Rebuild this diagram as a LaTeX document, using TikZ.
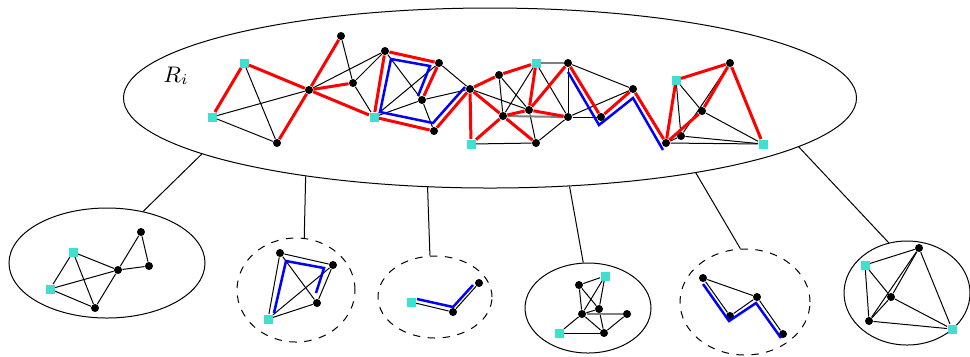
\documentclass[tikz,border=0pt]{standalone}
\usetikzlibrary{shapes.geometric}
\definecolor{termcol}{RGB}{64,224,208}
\begin{document}
\begin{tikzpicture}[x=0.4pt, y=-0.4pt,
    vtx/.style={circle, fill=black, inner sep=0pt, minimum size=3.2pt},
    term/.style={rectangle, fill=termcol, inner sep=0pt, minimum size=3.6pt},
    hl/.style={red, line width=1.2pt},
    bl/.style={blue, line width=1pt},
    dbl/.style={gray, line width=0.8pt},
    solidreg/.style={draw, ellipse, inner sep=0pt},
    dashreg/.style={draw, ellipse, dashed, inner sep=0pt}]
    \useasboundingbox (0,0) rectangle (970,356);

    % Region R_i and its pieces
    \node[solidreg, minimum width=293.2pt, minimum height=72pt] (ri) at (490,98) {};
    \node[font=\small] (rlab) at (176,76) {$R_i$};
    \node[solidreg, minimum width=78.4pt, minimum height=44pt] (g1) at (107,263) {};
    \node[dashreg, minimum width=47.2pt, minimum height=41.6pt] (g2) at (296,290) {};
    \node[dashreg, minimum width=45.6pt, minimum height=32.8pt] (g3) at (435,297) {};
    \node[solidreg, minimum width=50.4pt, minimum height=36pt] (g4) at (588,308) {};
    \node[dashreg, minimum width=52pt, minimum height=42.4pt] (g5) at (745,302) {};
    \node[solidreg, minimum width=50.4pt, minimum height=41.6pt] (g6) at (907,293) {};

    % Links from R_i down to the pieces
    \draw (ri.191.1) -- (g1.55.5);
    \draw (ri.203.5) -- (g2.81.3);
    \draw (ri.235.4) -- (g3.97);
    \draw (ri.312) -- (g4.96);
    \draw (ri.340.8) -- (g5.95);
    \draw (ri.351.4) -- (g6.110);

    % Graph inside R_i
    \node[term] (a1) at (244,63) {};
    \node[term] (a2) at (212,117) {};
    \node[vtx] (a3) at (277,143) {};
    \node[vtx] (c) at (309,90) {};
    \node[vtx] (d) at (341,36) {};
    \node[vtx] (e) at (353,83) {};
    \node[vtx] (f) at (385,51) {};
    \node[term] (g) at (374,117) {};
    \node[vtx] (h) at (439,63) {};
    \node[vtx] (i) at (422,100) {};
    \node[vtx] (j) at (434,131) {};
    \node[vtx] (k) at (470,89) {};
    \node[vtx] (l) at (499,75) {};
    \node[term] (m) at (536,63) {};
    \node[vtx] (n) at (568,63) {};
    \node[vtx] (o) at (503,116) {};
    \node[vtx] (p) at (529,110) {};
    \node[vtx] (q) at (568,117) {};
    \node[term] (r) at (471,144) {};
    \node[vtx] (s) at (536,143) {};
    \node[vtx] (t) at (601,117) {};
    \node[vtx] (u) at (633,89) {};
    \node[vtx] (v) at (666,143) {};
    \node[term] (w) at (676,80) {};
    \node[vtx] (xx) at (681,136) {};
    \node[vtx] (yy) at (702,111) {};
    \node[vtx] (z) at (730,63) {};
    \node[term] (aa) at (763,144) {};

    \foreach \s/\t in {a1/a3, a2/a3, a2/c, c/f, d/e, e/f, e/g, f/i, g/h, g/i,
        i/j, i/k, h/k, k/p, l/o, l/p, m/o, m/q, p/s, r/s, s/q, n/q, n/u, q/t,
        q/u, w/xx, w/yy, xx/z, yy/aa, xx/aa, v/aa, v/xx}
        \draw (\s) -- (\t);
    \draw[dbl] (m) -- (n);
    \draw[dbl] (o) -- (q);
    \foreach \s/\t in {a1/a2, a1/c, c/g, a3/c, c/d, c/e, f/g, f/h, h/i, g/j,
        j/k, k/l, l/m, k/r, k/o, o/s, r/o, o/p, p/m, p/n, p/q, n/t, t/u, u/v,
        v/w, w/z, z/aa, v/yy, yy/z}
        \draw[hl] (\s) -- (\t);

    % Blue paths beside the red ones
    \draw[bl] (418,96) -- (430,66) -- (391,59) -- (380,112) -- (433,123) -- (465,87);
    \draw[bl] (568,72) -- (599,125) -- (633,98) -- (663,150);

    % Piece 1
    \node[term] (p1a) at (73,252) {};
    \node[term] (p1b) at (50,289) {};
    \node[vtx] (p1c) at (95,308) {};
    \node[vtx] (p1d) at (118,270) {};
    \node[vtx] (p1e) at (141,232) {};
    \node[vtx] (p1f) at (149,266) {};
    \foreach \s/\t in {p1a/p1b, p1a/p1c, p1b/p1c, p1b/p1d, p1a/p1d, p1c/p1d,
        p1d/p1e, p1e/p1f, p1d/p1f}
        \draw (\s) -- (\t);

    % Piece 2
    \node[vtx] (p2a) at (280,253) {};
    \node[vtx] (p2b) at (333,265) {};
    \node[vtx] (p2c) at (317,303) {};
    \node[term] (p2d) at (268,319) {};
    \foreach \s/\t in {p2a/p2b, p2a/p2c, p2a/p2d, p2b/p2c, p2b/p2d, p2c/p2d}
        \draw (\s) -- (\t);
    \draw[bl] (316,293) -- (324,268) -- (286,261) -- (274,313);

    % Piece 3
    \node[term] (p3a) at (411,302) {};
    \node[vtx] (p3b) at (453,312) {};
    \node[vtx] (p3c) at (479,283) {};
    \draw (p3a) -- (p3b);
    \draw (p3b) -- (p3c);
    \draw[bl] (417,299) -- (453,307) -- (473,285);

    % Piece 4
    \node[vtx] (p4l) at (579,285) {};
    \node[term] (p4m) at (605,276) {};
    \node[vtx] (p4p) at (599,309) {};
    \node[vtx] (p4o) at (582,314) {};
    \node[vtx] (p4q) at (627,314) {};
    \node[term] (p4r) at (559,333) {};
    \node[vtx] (p4s) at (604,333) {};
    \foreach \s/\t in {p4l/p4m, p4l/p4o, p4l/p4p, p4m/p4o, p4m/p4p, p4o/p4p,
        p4o/p4r, p4o/p4s, p4p/p4s, p4r/p4s, p4s/p4q}
        \draw (\s) -- (\t);
    \draw[dbl] (p4o) -- (p4q);

    % Piece 5
    \node[vtx] (p5a) at (703,278) {};
    \node[vtx] (p5b) at (730,316) {};
    \node[vtx] (p5c) at (757,297) {};
    \node[vtx] (p5d) at (783,334) {};
    \foreach \s/\t in {p5a/p5b, p5b/p5c, p5c/p5d, p5a/p5c}
        \draw (\s) -- (\t);
    \draw[bl] (703,284) -- (729,321) -- (756,303) -- (781,338);

    % Piece 6
    \node[term] (p6a) at (865,265) {};
    \node[vtx] (p6b) at (919,248) {};
    \node[vtx] (p6c) at (891,297) {};
    \node[vtx] (p6d) at (869,321) {};
    \node[term] (p6e) at (952,329) {};
    \foreach \s/\t in {p6a/p6b, p6a/p6d, p6a/p6c, p6b/p6c, p6b/p6d, p6b/p6e,
        p6c/p6e, p6d/p6e, p6c/p6d}
        \draw (\s) -- (\t);
\end{tikzpicture}
\end{document}
